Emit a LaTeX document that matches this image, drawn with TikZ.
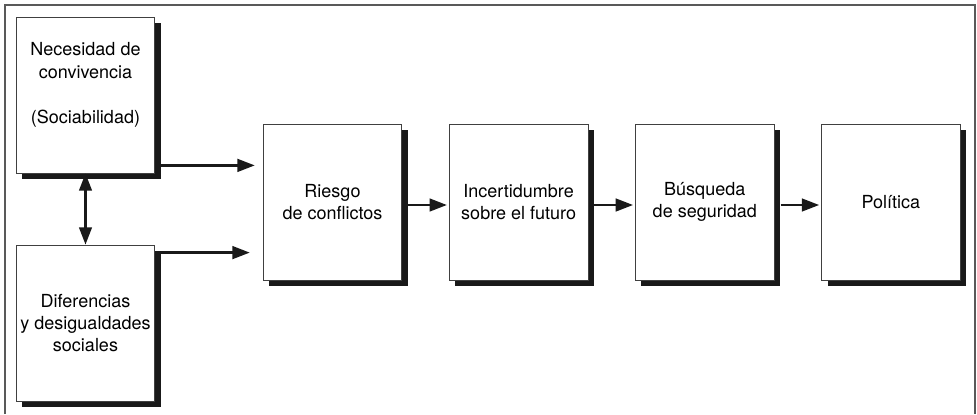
\documentclass[tikz,border=0pt]{standalone}
\usepackage{fontspec}
\setmainfont{TeX Gyre Heros}
\usetikzlibrary{arrows.meta,positioning,shadows,calc}

\begin{document}
\begin{tikzpicture}[x=0.75pt,y=-0.75pt,
  caja/.style={draw=black!75,line width=0.6pt,fill=white,
    minimum width=104pt,minimum height=117pt,inner sep=0pt,
    align=center,font=\fontsize{13.5}{16.5}\selectfont,
    drop shadow={shadow xshift=4.5pt,shadow yshift=-4.5pt,fill=black!90,opacity=1}},
  texto/.style={align=center,font=\fontsize{13.5}{17}\selectfont},
  flecha/.style={line width=1.8pt,black!90,-{Triangle[length=13pt,width=9.5pt]}},
  flechas/.style={line width=1.8pt,black!90,
    {Triangle[length=13pt,width=9.5pt]}-{Triangle[length=13pt,width=9.5pt]}}]
  \useasboundingbox (0,0) rectangle (977,414);
  % marco
  \draw[black!65,line width=1.2pt](5,414)--(5,5)--(975,5)--(975,414);

  % cajas de la izquierda
  \node[caja](nec) at (85.5,95){};
  \node[texto](necT) at (85.5,85){Necesidad de\\convivencia\\[17pt](Sociabilidad)};
  \node[caja](dif) at (85.5,323){Diferencias\\y desigualdades\\sociales};

  % cadena
  \node[caja](rie) at (332.5,202){Riesgo\\de conflictos};
  \node[caja,right=35pt of rie](inc){Incertidumbre\\sobre el futuro};
  \node[caja,right=35pt of inc](bus){Búsqueda\\de seguridad};
  \node[caja,right=35pt of bus](pol){Política};

  % flechas
  \draw[flechas](nec.south)--(dif.north);
  \draw[flecha]($(nec.south east)+(0,-8)$)--($(rie.west |- nec.south east)+(-8,-8)$);
  \draw[flecha]($(dif.north east)+(0,8)$)--($(rie.west |- dif.north east)+(-13,8)$);
  \draw[flecha]($(rie.east)+(6,3)$)--($(inc.west)+(-2,3)$);
  \draw[flecha]($(inc.east)+(6,3)$)--($(bus.west)+(-2,3)$);
  \draw[flecha]($(bus.east)+(6,3)$)--($(pol.west)+(-2,3)$);
\end{tikzpicture}
\end{document}
